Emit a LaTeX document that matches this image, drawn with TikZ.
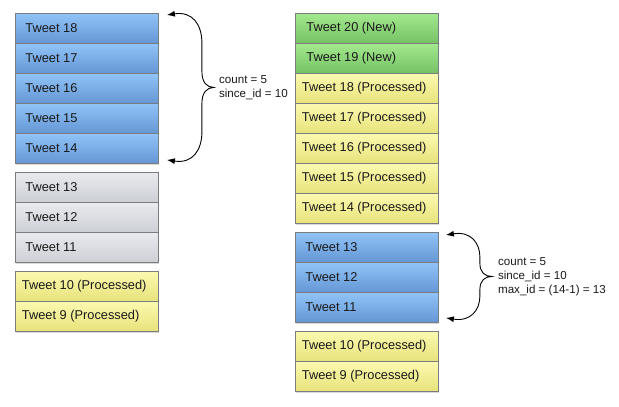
\documentclass[tikz,border=0pt]{standalone}
\usepackage{fontspec}
\setmainfont{Liberation Sans}
\usepackage{xcolor}
\usetikzlibrary{calc}
\usetikzlibrary{shadows}
\usetikzlibrary{arrows.meta}
\tikzset{>={Latex[length=8bp,width=6bp]}}

\definecolor{blueTop}{RGB}{144,196,247}
\definecolor{blueBot}{RGB}{100,150,212}
\definecolor{grayTop}{RGB}{232,234,238}
\definecolor{grayBot}{RGB}{204,207,212}
\definecolor{yellowTop}{RGB}{251,249,176}
\definecolor{yellowBot}{RGB}{232,226,122}
\definecolor{greenTop}{RGB}{164,232,142}
\definecolor{greenBot}{RGB}{116,194,100}
\definecolor{cellLine}{RGB}{122,124,128}
\definecolor{txt}{RGB}{26,26,26}

\tikzset{
	tweet/.style={draw=cellLine, line width=0.9bp, anchor=north west,
		minimum height=30bp, align=flush left, text=txt,
		font=\fontsize{12.8bp}{15bp}\selectfont,
		drop shadow={shadow xshift=0.6bp, shadow yshift=-1.8bp, opacity=0.3}},
	plain/.style={inner xsep=10bp, text width=123bp},
	processed/.style={inner xsep=6.5bp, text width=130bp,
		top color=yellowTop, bottom color=yellowBot},
	new/.style={inner xsep=11bp, text width=121bp,
		top color=greenTop, bottom color=greenBot},
	fetched/.style={plain, top color=blueTop, bottom color=blueBot},
	skipped/.style={plain, top color=grayTop, bottom color=grayBot},
	params/.style={anchor=west, inner sep=0pt, align=left, text=txt,
		font=\fontsize{11.6bp}{14bp}\selectfont},
	brace/.style={<->, line width=0.9bp}
}

\begin{document}
\begin{tikzpicture}[x=1bp, y=-1bp]
	\useasboundingbox (0,0) rectangle (619,406);

	\pgfmathsetmacro{\dh}{30}

	% Prima richiesta
	\foreach \n [count=\i from 0] in {18,17,...,14}
	{
	\node[tweet, fetched] (l\n) at (15, {13+\i*\dh}) {Tweet \n};
	}
	\foreach \n [count=\i from 0] in {13,12,11}
	{
	\node[tweet, skipped] (l\n) at (15, {172+\i*\dh}) {Tweet \n};
	}
	\foreach \n [count=\i from 0] in {10,9}
	{
	\node[tweet, processed] (l\n) at (15, {271+\i*\dh}) {Tweet \n{} (Processed)};
	}

	% Seconda richiesta
	\foreach \n [count=\i from 0] in {20,19}
	{
	\node[tweet, new] (r\n) at (295, {13+\i*\dh}) {Tweet \n{} (New)};
	}
	\foreach \n [count=\i from 0] in {18,17,...,14}
	{
	\node[tweet, processed] (r\n) at (295, {73+\i*\dh}) {Tweet \n{} (Processed)};
	}
	\foreach \n [count=\i from 0] in {13,12,11}
	{
	\node[tweet, fetched] (r\n) at (295, {232+\i*\dh}) {Tweet \n};
	}
	\foreach \n [count=\i from 0] in {10,9}
	{
	\node[tweet, processed] (r\n) at (295, {331+\i*\dh}) {Tweet \n{} (Processed)};
	}

	% Graffe
	\coordinate (lbt) at ($(l18.north east)+(8,2)$);
	\coordinate (lbb) at ($(l14.south east)+(8,-4)$);
	\coordinate (lbm) at ($(lbt)!0.5!(lbb)+(47,0)$);
	\draw[brace] (lbt) .. controls +(26,-4) and +(0,-18) .. ($(lbt-|lbm)+(-12,28)$)
	-- ($(lbm)+(-12,-16)$) .. controls +(0,11) and +(-7,0) .. (lbm)
	.. controls +(-7,0) and +(0,-11) .. ($(lbm)+(-12,16)$)
	-- ($(lbb-|lbm)+(-12,-28)$) .. controls +(0,18) and +(26,4) .. (lbb);
	\node[params] (lq) at ($(lbm)+(5,0)$) {count = 5\\since\_id = 10};

	\coordinate (rbt) at ($(r13.north east)+(7,3)$);
	\coordinate (rbb) at ($(r11.south east)+(7,-5)$);
	\coordinate (rbm) at ($(rbt)!0.5!(rbb)+(46,0)$);
	\draw[brace] (rbt) .. controls +(25,-4) and +(0,-14) .. ($(rbt-|rbm)+(-12,22)$)
	-- ($(rbm)+(-12,-13)$) .. controls +(0,9) and +(-7,0) .. (rbm)
	.. controls +(-7,0) and +(0,-9) .. ($(rbm)+(-12,13)$)
	-- ($(rbb-|rbm)+(-12,-22)$) .. controls +(0,14) and +(25,4) .. (rbb);
	\node[params] (rq) at ($(rbm)+(6,0)$) {count = 5\\since\_id = 10\\max\_id = (14-1) = 13};

\end{tikzpicture}
\end{document}
